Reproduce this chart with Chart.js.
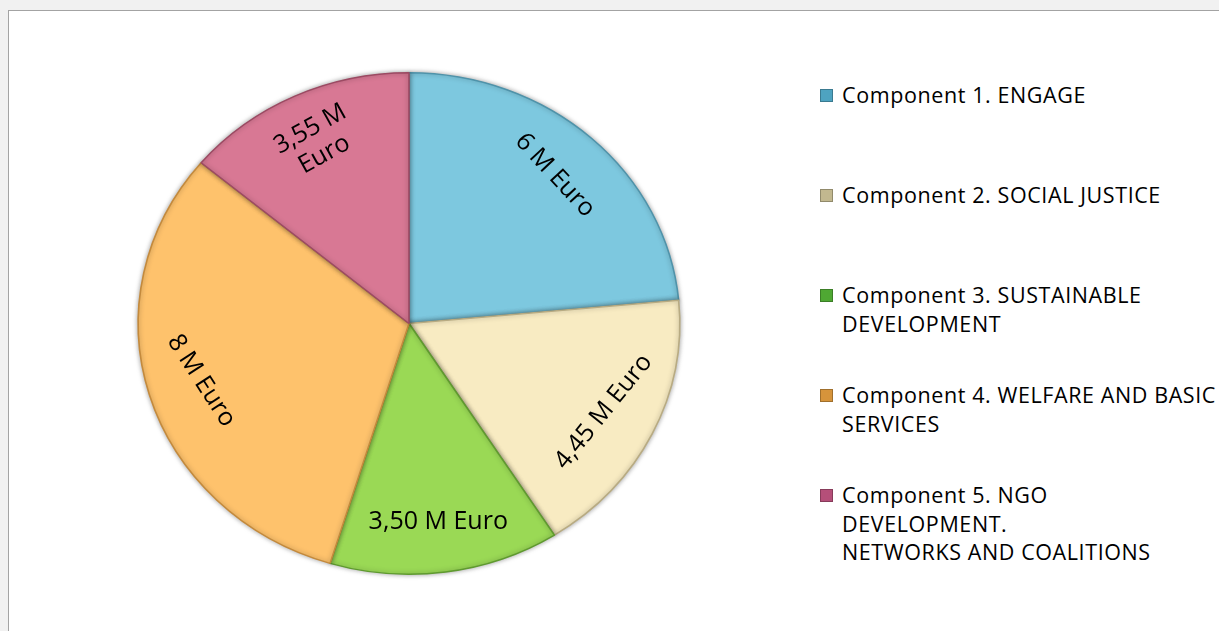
<!DOCTYPE html>
<html>
<head>
<meta charset="utf-8">
<script src="https://cdn.jsdelivr.net/npm/chart.js@4.4.0/dist/chart.umd.min.js"></script>
<style>
    body { margin: 0; background: #f1f1f1; font-family: "Open Sans", sans-serif; overflow: hidden; }
    .moldura { position: absolute; left: 8px; top: 10px; width: 1300px; height: 700px; background: #fff; border: 1px solid #a3a3a3; }
    #grafico { position: absolute; left: 0; top: 0; }
    #legenda { position: absolute; left: 820px; top: 81px; margin: 0; padding: 0; list-style: none; }
    #legenda li { position: relative; height: 100px; padding-left: 22px; font-size: 21.5px; letter-spacing: 0.6px; line-height: 28.5px; color: #000; white-space: nowrap; }
    #legenda .marca { position: absolute; left: 0; top: 8px; width: 11px; height: 11px; border: 1px solid rgba(0,0,0,0.25); }
</style>
</head>
<body>
<div class="moldura"></div>
<canvas id="grafico" width="820" height="631"></canvas>
<ul id="legenda"></ul>

<script>
// dados do gráfico
const componentes = [
    ["Component 1. ENGAGE"],
    ["Component 2. SOCIAL JUSTICE"],
    ["Component 3. SUSTAINABLE", "DEVELOPMENT"],
    ["Component 4. WELFARE AND BASIC", "SERVICES"],
    ["Component 5. NGO", "DEVELOPMENT.", "NETWORKS AND COALITIONS"]
];
const valores = [6, 4.45, 3.50, 8, 3.55];
const rotulos = ["6 M Euro", "4,45 M Euro", "3,50 M Euro", "8 M Euro", ["3,55 M", "Euro"]];

const cores = ['#7dc8df', '#f8ebc2', '#9ad955', '#fec26c', '#d87894'];
const coresBorda = ['#4f93aa', '#b8ab82', '#5f9a2f', '#c48a3c', '#9c4a63'];
const coresLegenda = ['#4ea3c0', '#c2b88f', '#4fa833', '#d6943b', '#b54f79'];

// esticar a pizza na horizontal como na figura original
const escalaX = 1.08;

// montando a legenda
const legenda = document.getElementById('legenda');
for (var i = 0; i < componentes.length; i++) {
    legenda.innerHTML += `
        <li><span class="marca" style="background:${coresLegenda[i]}"></span>${componentes[i].join('<br>')}</li>
    `;
}

const pluginPizza = {
    id: 'pizza',
    beforeDatasetsDraw(chart) {
        const ctx = chart.ctx;
        const centro = chart.getDatasetMeta(0).data[0];
        ctx.save();
        ctx.translate(centro.x, centro.y);
        ctx.scale(escalaX, 1);
        ctx.translate(-centro.x, -centro.y);
        ctx.shadowColor = 'rgba(0,0,0,0.35)';
        ctx.shadowBlur = 5;
    },
    afterDatasetsDraw(chart, args, opcoes) {
        const ctx = chart.ctx;
        ctx.restore();

        // rótulos dentro das fatias, girados como na figura
        const arcos = chart.getDatasetMeta(0).data;
        ctx.save();
        ctx.font = '25px "Open Sans"';
        ctx.fillStyle = '#000';
        ctx.textAlign = 'center';
        ctx.textBaseline = 'middle';
        arcos.forEach((arco, j) => {
            const meio = (arco.startAngle + arco.endAngle) / 2;
            const r = arco.outerRadius * 0.8;
            const x = arco.x + Math.cos(meio) * r * escalaX;
            const y = arco.y + Math.sin(meio) * r;
            const giro = opcoes.giros[j] * Math.PI / 180;
            const linhas = [].concat(rotulos[j]);
            ctx.save();
            ctx.translate(x, y);
            ctx.rotate(giro);
            linhas.forEach((linha, k) => {
                ctx.fillText(linha, 0, (k - (linhas.length - 1) / 2) * 29);
            });
            ctx.restore();
        });
        ctx.restore();
    }
};

const configChart = {
    type: 'pie',
    data: {
        labels: componentes.map(c => c.join(' ')),
        datasets: [{
            data: valores,
            backgroundColor: cores,
            borderColor: coresBorda,
            borderWidth: 1.5
        }]
    },
    options: {
        responsive: false,
        animation: false,
        layout: { padding: { left: 0, right: 2, top: 72, bottom: 56 } },
        plugins: {
            legend: { display: false },
            tooltip: { enabled: false },
            pizza: { giros: [47, -51, 0, 57, -29] }
        }
    },
    plugins: [pluginPizza]
};

let myChart = new Chart(document.getElementById('grafico'), configChart);
</script>
</body>
</html>
